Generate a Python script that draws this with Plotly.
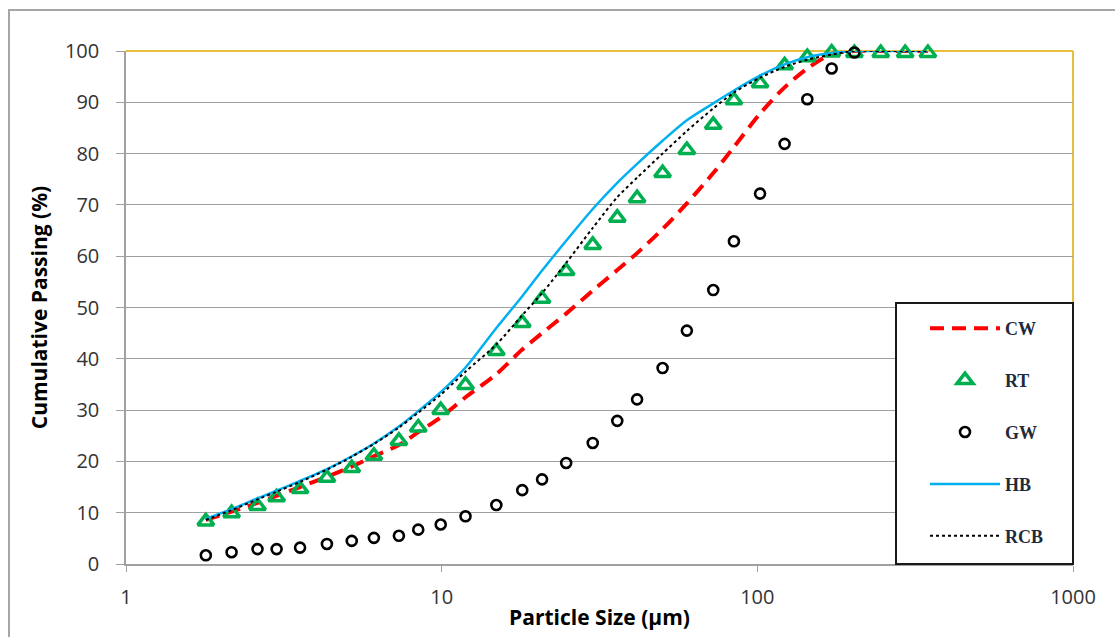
import plotly.graph_objects as go

# Particle size bins (µm) shared by all gradations
size_um = [1.79, 2.16, 2.61, 3.00, 3.56, 4.33, 5.19, 6.10, 7.32, 8.43, 9.93,
           11.9, 14.9, 18.0, 20.8, 24.8, 30.1, 36.0, 41.6, 50.1, 59.8, 72.5,
           84.3, 102, 122, 144, 172, 203, 246, 294, 347]

# Cumulative passing (%) for each material
cw = [8.6, 10.2, 11.9, 13.3, 15.0, 17.0, 19.0, 21.0, 23.2, 25.7, 28.6,
      32.5, 37.0, 41.8, 45.0, 48.8, 53.3, 57.3, 60.6, 65.3, 70.3, 76.2,
      81.3, 87.8, 92.9, 96.6, 99.4, 100, 100, 100, 100]
rt = [8.3, 9.9, 11.3, 13.0, 14.6, 16.8, 18.7, 21.1, 24.0, 26.6, 30.0,
      34.9, 41.5, 47.0, 51.7, 57.1, 62.2, 67.5, 71.3, 76.2, 80.7, 85.6,
      90.4, 93.7, 97.2, 98.8, 99.7, 99.6, 99.6, 99.6, 99.6]
gw = [1.7, 2.3, 2.9, 2.9, 3.2, 3.9, 4.5, 5.1, 5.5, 6.7, 7.7,
      9.3, 11.5, 14.4, 16.5, 19.7, 23.6, 27.9, 32.1, 38.2, 45.5, 53.4,
      62.9, 72.2, 81.9, 90.6, 96.6, 99.7, 100.2, 100.2, 100.2]
hb = [8.8, 10.7, 12.8, 14.3, 16.2, 18.5, 21.0, 23.5, 26.8, 29.8, 33.5,
      38.3, 46.0, 52.2, 57.2, 63.0, 69.2, 74.3, 78.0, 82.5, 86.5, 89.8,
      92.3, 95.2, 97.4, 98.8, 99.6, 100, 100, 100, 100]
rcb = [8.6, 10.5, 12.6, 14.1, 16.0, 18.4, 20.9, 23.4, 26.6, 29.5, 33.0,
       37.5, 42.8, 48.5, 52.8, 58.7, 65.5, 71.5, 75.3, 80.0, 84.4, 88.8,
       91.9, 94.8, 96.9, 98.3, 99.3, 100, 100, 100, 100]

x_ticks = [1, 10, 100, 1000]
y_ticks = list(range(0, 101, 10))

fig = go.Figure()

fig.add_trace(go.Scatter(
    x=size_um, y=cw, name="CW", mode="lines", legendgroup="cw",
    line=dict(color="#FF0000", width=4, dash="14px,8px", shape="spline", smoothing=0.8)))
fig.add_trace(go.Scatter(
    x=size_um, y=rt, name="RT", mode="markers", legendgroup="rt", cliponaxis=False,
    marker=dict(symbol="triangle-up-open", size=14, color="#00B050",
                line=dict(color="#00B050", width=3.5))))
fig.add_trace(go.Scatter(
    x=size_um, y=gw, name="GW", mode="markers", legendgroup="gw", cliponaxis=False,
    marker=dict(symbol="circle-open", size=10, color="#000000",
                line=dict(color="#000000", width=2.6))))
fig.add_trace(go.Scatter(
    x=size_um, y=hb, name="HB", mode="lines", legendgroup="hb",
    line=dict(color="#00B0F0", width=2.5, shape="spline", smoothing=0.8)))
fig.add_trace(go.Scatter(
    x=size_um, y=rcb, name="RCB", mode="lines", legendgroup="rcb",
    line=dict(color="#000000", width=2, dash="dot", shape="spline", smoothing=0.8)))

# frame of the whole chart, legend box and golden top/right plot border
fig.add_shape(type="rect", xref="paper", yref="paper",
              x0=-117/947, x1=1.2, y0=-0.3, y1=1 + 41/513,
              line=dict(color="#A6A6A6", width=2), layer="below")
fig.add_shape(type="line", xref="paper", yref="paper", x0=0, x1=1, y0=1, y1=1,
              line=dict(color="#E8BE3C", width=2), layer="below")
fig.add_shape(type="line", xref="paper", yref="paper", x0=1, x1=1, y0=0, y1=1,
              line=dict(color="#E8BE3C", width=2), layer="below")
fig.add_shape(type="rect", xref="paper", yref="paper",
              x0=(896 - 126) / 947, x1=1.0, y0=0.0, y1=(564 - 303) / 513,
              line=dict(color="#1A1A1A", width=2), fillcolor="white", layer="above")

fig.update_layout(
    width=1115, height=637,
    margin=dict(l=126, r=42, t=51, b=73),
    paper_bgcolor="white", plot_bgcolor="white",
    font=dict(family="Open Sans", color="#404040"),
    showlegend=True,
    legend=dict(
        x=(925 - 126) / 947, y=(564 - 310) / 513, xanchor="left", yanchor="top",
        bgcolor="rgba(0,0,0,0)", borderwidth=0,
        font=dict(family="Liberation Serif", size=18, color="#1F2A3A", weight="bold"),
        itemwidth=70, tracegroupgap=25.5, traceorder="grouped",
    ),
    xaxis=dict(
        type="log", range=[0, 3], tickvals=x_ticks, ticktext=[str(v) for v in x_ticks],
        showgrid=False, showline=True, linecolor="#A0A0A0", linewidth=1.5,
        ticks="outside", ticklen=6, tickcolor="#A0A0A0", ticklabelstandoff=8,
        tickfont=dict(size=20, color="#333333"),
        title=dict(text="Particle Size (µm)", font=dict(size=21, color="#000000", weight="bold"),
                   standoff=2),
        zeroline=False,
    ),
    yaxis=dict(
        range=[0, 100], tickvals=y_ticks,
        showgrid=True, gridcolor="#A0A0A0", gridwidth=1.2,
        showline=True, linecolor="#A0A0A0", linewidth=1.5,
        ticks="outside", ticklen=8, tickcolor="#A0A0A0", ticklabelstandoff=13,
        tickfont=dict(size=20, color="#333333"),
        title=dict(text="Cumulative Passing (%)", font=dict(size=21, color="#000000", weight="bold"),
                   standoff=12),
        zeroline=False,
    ),
)

fig.write_html("out.html")
